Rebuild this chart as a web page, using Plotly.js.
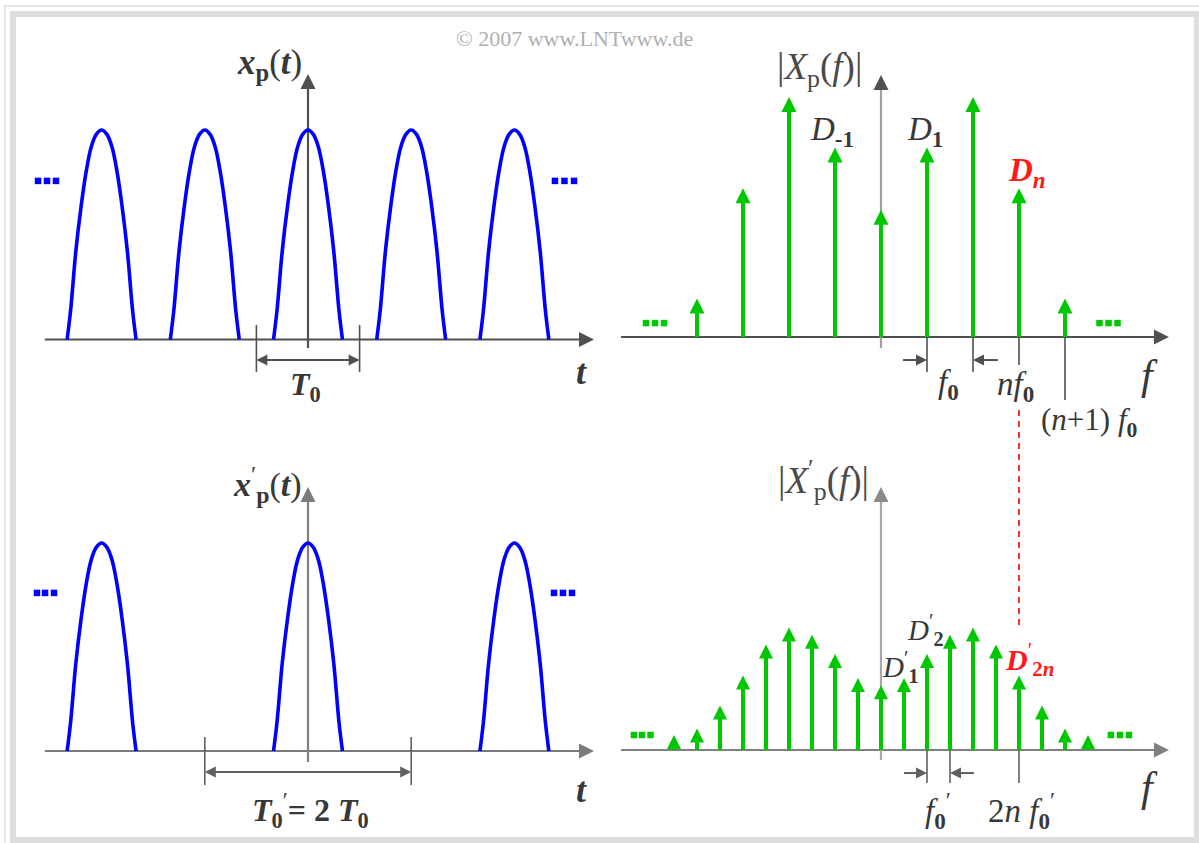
<!DOCTYPE html>
<html><head><meta charset="utf-8">
<script src="https://cdn.plot.ly/plotly-3.0.1.min.js"></script>
<style>html,body{margin:0;padding:0;background:#fff;} #chart{width:1199px;height:843px;}</style>
</head><body><div id="chart"></div>
<script>
// ---------------- data ----------------
// time domain: pulse centres in units of T0
const pulseCentresTop    = [-2, -1, 0, 1, 2];
const pulseCentresBottom = [-2, 0, 2];            // period T0' = 2 T0
// one pulse: offset from its centre (units of T0) and normalized amplitude
const pulseOffset = [-0.334, -0.30, -0.25, -0.20, -0.15, -0.10, -0.05, 0, 0.05, 0.10, 0.15, 0.20, 0.25, 0.30, 0.334];
const pulseAmp    = [0, 0.14, 0.42, 0.63, 0.80, 0.92, 0.98, 1, 0.98, 0.92, 0.80, 0.63, 0.42, 0.14, 0];
// spectrum of x_p(t): index n (multiples of f0) and |D_n|
const specIndexTop = [-4, -3, -2, -1, 0, 1, 2, 3, 4];
const specMagTop   = [0.16, 0.62, 1.00, 0.79, 0.53, 0.79, 1.00, 0.62, 0.16];
// spectrum of x'_p(t): index k (multiples of f0' = f0/2) and |D'_k|
const specIndexBottom = [-9, -8, -7, -6, -5, -4, -3, -2, -1, 0, 1, 2, 3, 4, 5, 6, 7, 8, 9];
const specMagBottom   = [0.0625, 0.09, 0.185, 0.31, 0.44, 0.51, 0.48, 0.40, 0.30, 0.27, 0.30, 0.40, 0.48, 0.51, 0.44, 0.31, 0.185, 0.09, 0.0625];

// ---------------- geometry / style ----------------
const W = 1199, H = 843;
const SERIF = "'Liberation Serif', 'Times New Roman', Times, serif";
const GREEN = '#00c800', BLUE = '#0000ff', RED = '#ff1a1a';
const TXT = '#383838';

// each panel: own x/y axis spanning the whole page; origin (px) and scale (px per unit)
const PA = {xa:'x',  ya:'y',  ox:308, oy:339.5, sx:103.2, sy:209.5};
const PB = {xa:'x2', ya:'y2', ox:881, oy:337,   sx:46,    sy:240};
const PC = {xa:'x3', ya:'y3', ox:308, oy:751,   sx:103.2, sy:208};
const PD = {xa:'x4', ya:'y4', ox:881, oy:750,   sx:23,    sy:240};
function xr(p){ return [-p.ox/p.sx, (W-p.ox)/p.sx]; }
function yr(p){ return [(p.oy-H)/p.sy, p.oy/p.sy]; }

const traces = [];
function addLine(p, xs, ys, color, width, dash){
  traces.push({type:'scatter', mode:'lines', xaxis:p.xa, yaxis:p.ya, x:xs, y:ys,
    line:{color:color, width:width, dash:dash||'solid'}, hoverinfo:'skip', showlegend:false, cliponaxis:false});
}
function addMarks(p, xs, ys, symbol, size, color){
  traces.push({type:'scatter', mode:'markers', xaxis:p.xa, yaxis:p.ya, x:xs, y:ys,
    marker:{symbol:symbol, size:size, color:color, line:{width:0}}, hoverinfo:'skip', showlegend:false, cliponaxis:false});
}
// axis with arrow: horizontal (y=0) from a to b; vertical (x=0) from c to d
function axes(p, a, b, c, d, hcol, vcol, vhead, headSize){
  addLine(p, [a, b - headSize*0.6/p.sx], [0, 0], hcol, 2);
  addMarks(p, [b], [0], 'arrow-right', headSize, hcol);
  addLine(p, [0, 0], [c, d - headSize*0.6/p.sy], vcol, 2.2);
  addMarks(p, [0], [d], 'arrow-up', headSize, vhead);
}
function dimArrow(p, from, to, y, col){
  const dir = to > from ? 1 : -1;
  addLine(p, [from, to - dir*6/p.sx], [y, y], col, 2);
  addMarks(p, [to], [y], dir > 0 ? 'arrow-right' : 'arrow-left', 11, col);
}
function pulses(p, centres){
  const xs = [], ys = [];
  centres.forEach(c => { pulseOffset.forEach((o, i) => { xs.push(c + o); ys.push(pulseAmp[i]); }); xs.push(null); ys.push(null); });
  traces.push({type:'scatter', mode:'lines', xaxis:p.xa, yaxis:p.ya, x:xs, y:ys,
    line:{color:BLUE, width:3.6, shape:'spline'}, connectgaps:false, hoverinfo:'skip', showlegend:false, cliponaxis:false});
}
function spectrum(p, idx, mag, head, width){
  const xs = [], ys = [];
  idx.forEach((n, i) => { xs.push(n, n, null); ys.push(0, Math.max(0, mag[i] - head*0.55/p.sy), null); });
  addLine(p, xs, ys, GREEN, width);
  addMarks(p, idx, mag, 'arrow-up', head, GREEN);
}
function dots(p, xs, y, col){ addMarks(p, xs, xs.map(() => y), 'square', 6.5, col); }

// ---------- panel A: x_p(t) ----------
axes(PA, -2.55, 2.771, -0.04, 1.267, '#505050', '#505050', '#505050', 15);
[-0.5, 0.5].forEach(t => addLine(PA, [t, t], [0.069, -0.155], '#505050', 1.6));
dimArrow(PA, 0, -0.5, -0.098, '#505050');
dimArrow(PA, 0, 0.5, -0.098, '#505050');
pulses(PA, pulseCentresTop);
dots(PA, [-2.616, -2.529, -2.442], 0.757, BLUE);
dots(PA, [2.393, 2.485, 2.578], 0.757, BLUE);

// ---------- panel B: |X_p(f)| ----------
addLine(PB, [3, 3], [-0.304, -1.208], RED, 1.8, '6px,5px');
axes(PB, -5.65, 6.26, -0.046, 1.092, '#505050', '#a0a0a0', '#505050', 15);
[[1, -0.146], [2, -0.146], [3, -0.117], [4, -0.2625]].forEach(t => addLine(PB, [t[0], t[0]], [0, t[1]], '#505050', 1.6));
dimArrow(PB, 0.478, 1, -0.096, '#505050');
dimArrow(PB, 2.54, 2, -0.096, '#505050');
spectrum(PB, specIndexTop, specMagTop, 15, 4);
dots(PB, [-5.109, -4.913, -4.717], 0.058, GREEN);
dots(PB, [4.75, 4.946, 5.142], 0.058, GREEN);

// ---------- panel C: x'_p(t) ----------
axes(PC, -2.55, 2.771, -0.053, 1.269, '#7a7a7a', '#808080', '#7a7a7a', 15);
[-1, 1].forEach(t => addLine(PC, [t, t], [0.067, -0.163], '#606060', 1.6));
dimArrow(PC, 0, -1, -0.101, '#606060');
dimArrow(PC, 0, 1, -0.101, '#606060');
pulses(PC, pulseCentresBottom);
dots(PC, [-2.626, -2.548, -2.461], 0.760, BLUE);
dots(PC, [2.384, 2.471, 2.558], 0.760, BLUE);

// ---------- panel D: |X'_p(f)| ----------
axes(PD, -11.3, 12.52, -0.042, 1.096, '#808080', '#a8a8a8', '#8a8a8a', 15);
[2, 3, 6].forEach(k => addLine(PD, [k, k], [0, -0.1375], '#606060', 1.6));
dimArrow(PD, 1.0, 2, -0.096, '#606060');
dimArrow(PD, 4.04, 3, -0.096, '#606060');
spectrum(PD, specIndexBottom, specMagBottom, 14, 4);
dots(PD, [-10.74, -10.39, -10.02], 0.0625, GREEN);
dots(PD, [9.996, 10.39, 10.78], 0.0625, GREEN);

// ---------------- labels ----------------
function lab(text, px, py, size, color, extra){
  return Object.assign({xref:'paper', yref:'paper', x:px/W, y:1-py/H, text:text, showarrow:false,
    xanchor:'center', yanchor:'middle', font:{family:SERIF, size:size, color:color||TXT}}, extra||{});
}
const PR = '<sup>\u2032</sup>';
const annotations = [
  lab('\u00a9 2007 www.LNTwww.de', 574, 39, 22, '#b0b0b0'),
  // panel A
  lab('<b><i>x</i></b><sub><b>p</b></sub>(<b><i>t</i></b>)', 269, 65, 35),
  lab('<b><i>t</i></b>', 581, 372, 36),
  lab('<b><i>T</i><sub>0</sub></b>', 305, 386, 32),
  // panel B
  lab('|<i>X</i><sub>p</sub>(<i>f</i>)|', 819, 70, 37, '#4a4a4a'),
  lab('<i>D</i><sub><b>-1</b></sub>', 832, 131, 33),
  lab('<i>D</i><sub><b>1</b></sub>', 925, 131, 33),
  lab('<b><i>D</i></b><sub><b><i>n</i></b></sub>', 1027, 172, 33, RED),
  lab('<i>f</i><sub><b>0</b></sub>', 948, 384, 33),
  lab('<i>n</i><i>f</i><sub><b>0</b></sub>', 1015, 387, 33),
  lab('(<i>n</i>+1) <i>f</i><sub><b>0</b></sub>', 1089, 422, 31),
  lab('<i>f</i>', 1149, 375, 42),
  // panel C
  lab('<b><i>x</i></b>' + PR + '<sub><b>p</b></sub>(<b><i>t</i></b>)', 267, 484, 34),
  lab('<b><i>t</i></b>', 581, 790, 36),
  lab('<b><i>T</i><sub>0</sub></b>' + PR + '<b>= 2 <i>T</i><sub>0</sub></b>', 310, 810, 32),
  // panel D
  lab('|<i>X</i>' + PR + '<sub>p</sub>(<i>f</i>)|', 823, 480, 37, '#4a4a4a'),
  lab('<i>D</i>' + PR + '<sub><b>2</b></sub>', 925, 630, 29),
  lab('<i>D</i>' + PR + '<sub><b>1</b></sub>', 900, 667, 29),
  lab('<b><i>D</i></b>' + PR + '<sub><b>2<i>n</i></b></sub>', 1029, 659, 30, RED),
  lab('<i>f</i><sub><b>0</b></sub>' + PR, 938, 810, 33),
  lab('2<i>n</i> <i>f</i><sub><b>0</b></sub>' + PR, 1021, 810, 33),
  lab('<i>f</i>', 1149, 787, 42)
];

// ---------------- frame ----------------
function px(x){ return x/W; } function py(y){ return 1 - y/H; }
const shapes = [
  {type:'rect', xref:'paper', yref:'paper', x0:px(5), y0:py(6), x1:px(1204), y1:py(849), line:{color:'#e6e6e6', width:2}, layer:'below'},
  {type:'rect', xref:'paper', yref:'paper', x0:px(13), y0:py(14), x1:px(1197), y1:py(840), line:{color:'#dedede', width:6}, layer:'below'}
];

function ax(p, which){
  return {domain:[0,1], range: which === 'x' ? xr(p) : yr(p), visible:false, fixedrange:true,
    anchor: which === 'x' ? p.ya : p.xa};
}
const layout = {
  width:W, height:H, margin:{l:0, r:0, t:0, b:0}, showlegend:false,
  paper_bgcolor:'#ffffff', plot_bgcolor:'rgba(0,0,0,0)',
  xaxis:ax(PA,'x'), yaxis:ax(PA,'y'),
  xaxis2:ax(PB,'x'), yaxis2:ax(PB,'y'),
  xaxis3:ax(PC,'x'), yaxis3:ax(PC,'y'),
  xaxis4:ax(PD,'x'), yaxis4:ax(PD,'y'),
  annotations:annotations, shapes:shapes
};
Plotly.newPlot('chart', traces, layout, {displayModeBar:false, staticPlot:true});
</script></body></html>
